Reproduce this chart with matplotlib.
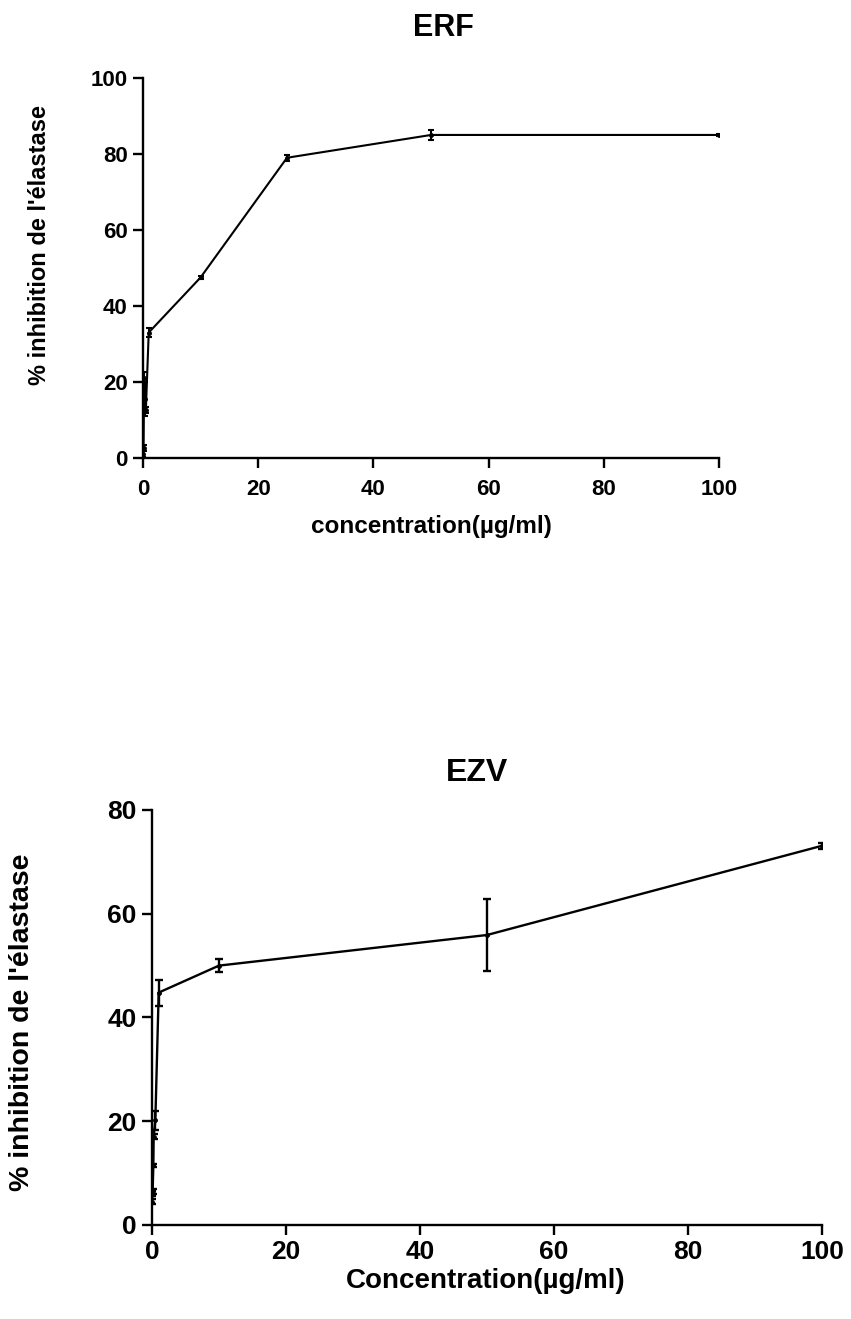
import matplotlib
matplotlib.use("Agg")
import matplotlib.pyplot as plt

plt.rcParams['font.family'] = ['Liberation Sans', 'DejaVu Sans']
plt.rcParams['font.weight'] = 'bold'

# ERF data
erf_conc = [0.05, 0.1, 0.2, 0.4, 0.5, 1, 10, 25, 50, 100]
erf_inhib = [1.0, 2.5, 21.0, 15.5, 12.5, 33.0, 47.5, 79.0, 85.0, 85.0]
erf_err = [0.8, 0.8, 1.5, 4.5, 0.8, 1.2, 0.3, 0.8, 1.2, 0.3]

# EZV data
ezv_conc = [0.02, 0.05, 0.1, 0.2, 0.25, 0.5, 1, 10, 50, 100]
ezv_inhib = [4.5, 6.0, 6.5, 11.5, 17.0, 20.2, 44.8, 50.0, 55.9, 73.1]
ezv_err = [0.5, 0.5, 0.5, 0.3, 0.5, 1.8, 2.5, 1.3, 6.9, 0.6]

fig = plt.figure(figsize=(8.51, 13.19), dpi=100)

def style(ax, fs, xpad):
    for s in ['top', 'right']:
        ax.spines[s].set_visible(False)
    for s in ['left', 'bottom']:
        ax.spines[s].set_linewidth(1.7)
    ax.tick_params(direction='out', length=7, width=1.7, labelsize=fs, pad=4)
    ax.tick_params(axis='x', pad=xpad)
    for lab in ax.get_xticklabels() + ax.get_yticklabels():
        lab.set_fontweight('bold')

# haut : ERF
ax1 = fig.add_axes([0.168, 0.6528, 0.677, 0.2881])
ax1.errorbar(erf_conc, erf_inhib, yerr=erf_err, color='black', lw=1.5,
             marker='o', ms=2.5, capsize=2.5, elinewidth=1.5, capthick=1.5)
ax1.set_xlim(0, 100)
ax1.set_ylim(0, 100)
ax1.set_xticks([0, 20, 40, 60, 80, 100])
ax1.set_yticks([0, 20, 40, 60, 80, 100])
style(ax1, 16, 8)
fig.text(0.5206, 0.9788, 'ERF', fontsize=22, fontweight='bold', ha='center', va='center')
fig.text(0.5065, 0.6005, 'concentration(µg/ml)', fontsize=17.5, fontweight='bold',
         ha='center', va='center')
fig.text(0.047, 0.8143, "% inhibition de l'élastase", fontsize=17, fontweight='bold',
         ha='center', va='center', rotation=90)

# bas : EZV
ax2 = fig.add_axes([0.1786, 0.0713, 0.7873, 0.3146])
ax2.errorbar(ezv_conc, ezv_inhib, yerr=ezv_err, color='black', lw=1.7,
             marker='o', ms=2.5, capsize=3, elinewidth=1.7, capthick=1.7)
ax2.set_xlim(0, 100)
ax2.set_ylim(0, 80)
ax2.set_xticks([0, 20, 40, 60, 80, 100])
ax2.set_yticks([0, 20, 40, 60, 80])
style(ax2, 19, 4)
fig.text(0.5605, 0.4139, 'EZV', fontsize=23, fontweight='bold', ha='center', va='center')
fig.text(0.5711, 0.0285, 'Concentration(µg/ml)', fontsize=20, fontweight='bold',
         ha='center', va='center')
fig.text(0.0259, 0.2248, "% inhibition de l'élastase", fontsize=20.5, fontweight='bold',
         ha='center', va='center', rotation=90)

fig.savefig('out.png', dpi=100)
